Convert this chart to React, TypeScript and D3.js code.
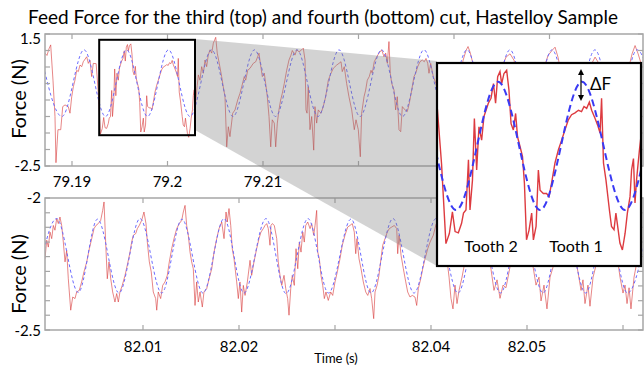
import React from "react";
import * as d3 from "d3";

type Pt = [number, number];

const TITLE = "Feed Force for the third (top) and fourth (bottom) cut, Hastelloy Sample";
const Y_LABEL = "Force (N)";
const X_LABEL = "Time (s)";

// time offsets in ms relative to these bases
const TOP_T0 = 79.19;
const BOTTOM_T0 = 82.0;

const topXTicks = [79.19, 79.2, 79.21, 79.22, 79.23, 79.24];
const topXLabels = ["79.19", "79.2", "79.21", "", "", ""];
const topYTicks = [1.5, 1, 0.5, 0, -0.5, -1, -1.5, -2, -2.5];
const topYLabels = ["1.5", "", "", "", "", "", "", "", "-2.5"];
const bottomXTicks = [82.01, 82.02, 82.03, 82.04, 82.05, 82.06];
const bottomXLabels = ["82.01", "82.02", "", "82.04", "82.05", ""];
const bottomYTicks = [-2, -2.056, -2.111, -2.167, -2.222, -2.278, -2.333, -2.389, -2.444, -2.5];
const bottomYLabels = ["-2", "", "", "", "", "", "", "", "", "-2.5"];

// third cut (top): measured feed force [ms after 79.19 s, N]
const topMeasured: Pt[] = [
  [-2.83, 0.92], [-2.62, 0.85], [-2.41, 1.05], [-2.23, 1.17], [-1.99, 0.1], [-1.78, -1.0], [-1.68, -2.4], [-1.47, -1.4],
  [-1.18, -1.4], [-0.97, -0.7], [-0.73, -0.65], [-0.39, -0.7], [-0.21, -0.9], [-0.03, -0.4], [0.14, -0.1], [0.31, 0.1],
  [0.49, 0.4], [0.66, 0.36], [0.84, 0.56], [1.02, 0.51], [1.18, 0.66], [1.54, 0.81], [1.71, 0.61], [1.88, 0.71],
  [2.06, 0.21], [2.23, 0.61], [2.53, 0.6], [2.75, -0.27], [2.98, -1.53], [3.16, -1.37], [3.32, -1.03], [3.46, -1.34],
  [3.63, -1.36], [3.8, -1.21], [3.9, -1.05], [4.03, -1.0], [4.16, -0.21], [4.24, -1.0], [4.37, -0.53], [4.47, 0.44],
  [4.59, -0.37], [4.71, 0.31], [4.85, 0.1], [4.97, 0.47], [5.08, 0.57], [5.2, 0.68], [5.34, 0.76], [5.47, 0.99],
  [5.58, 0.68], [5.69, 1.1], [5.81, 1.18], [5.9, 0.99], [6.02, 1.15], [6.16, 1.2], [6.28, 0.89], [6.39, 0.36],
  [6.51, 0.26], [6.63, 0.52], [6.73, 0.15], [6.86, 0.0], [6.99, -0.16], [7.09, -0.58], [7.2, -1.47], [7.33, -1.32],
  [7.47, -1.05], [7.56, -1.47], [7.7, -1.26], [7.82, -0.37], [7.91, -0.69], [8.08, -0.74], [8.25, -0.74], [8.38, -0.79],
  [8.51, -0.58], [8.69, -0.26], [8.87, -0.05], [9.04, 0.1], [9.21, 0.26], [9.39, 0.42], [9.56, 0.5], [9.74, 0.53],
  [9.92, 0.57], [10.08, 0.55], [10.21, 0.63], [10.35, 0.6], [10.49, 0.7], [10.61, 0.57], [10.79, 0.44], [10.92, 0.34],
  [11.05, 0.21], [11.13, 0.76], [11.23, -0.26], [11.36, -0.53], [11.54, -1.0], [11.65, -1.26], [11.78, -1.31], [11.88, -1.05],
  [12.01, -1.34], [12.09, -1.52], [12.22, -1.63], [12.36, -1.37], [12.48, -1.05], [12.62, -0.79], [12.7, -0.37], [12.8, -0.19],
  [12.88, -0.89], [12.96, -0.53], [13.11, -0.06], [13.23, 0.26], [13.4, 0.1], [13.58, 0.51], [13.75, 0.31], [13.93, 0.71],
  [14.1, 0.51], [14.27, 0.86], [14.45, 1.02], [14.63, 0.92], [14.8, 1.22], [15.05, 1.4], [15.21, 0.92], [15.42, 0.61],
  [15.67, 0.21], [15.84, -0.1], [16.02, -0.4], [16.2, -1.92], [16.37, -1.31], [16.54, -1.61], [16.83, -0.9], [17.07, -0.8],
  [17.35, -0.5], [17.59, -0.3], [17.77, -0.1], [18.04, 0.21], [18.19, 0.1], [18.4, 0.4], [18.64, 0.46], [18.98, 0.61],
  [19.24, 0.66], [19.44, 0.81], [19.58, 0.92], [19.72, 0.61], [19.93, 0.21], [20.14, 0.31], [20.28, 0.0], [20.45, -0.4],
  [20.63, -1.0], [20.81, -1.92], [20.97, -1.1], [21.18, -1.2], [21.33, -1.92], [21.5, -1.2], [21.67, -0.8], [21.85, -0.5],
  [22.02, -0.3], [22.23, 0.0], [22.48, 0.4], [22.72, 0.71], [22.93, 0.86], [23.07, 1.0], [23.35, 0.86], [23.53, 1.02],
  [23.77, 0.96], [24.05, 1.02], [24.22, 1.07], [24.4, 0.71], [24.5, -0.8], [24.61, -0.9], [24.74, -0.1], [24.92, -1.4],
  [25.1, -1.0], [25.31, -2.02], [25.44, -0.7], [25.62, -1.2], [25.79, -0.8], [26.07, -0.9], [26.31, -0.7], [26.56, -0.4],
  [26.84, 0.1], [27.12, 0.31], [27.36, 0.46], [27.72, 0.56], [27.96, 0.61], [28.17, 0.66], [28.3, 0.36], [28.51, 0.51],
  [28.76, 0.0], [29.0, -0.4], [29.29, -0.8], [29.56, -1.4], [29.74, -1.1], [29.98, -1.4], [30.19, -2.22], [30.33, -0.9],
  [30.58, -0.4], [30.75, -0.2], [30.92, 0.1], [31.13, 0.21], [31.31, 0.4], [31.44, 0.31], [31.65, 0.66], [31.91, 0.81],
  [32.15, 0.92], [32.43, 1.02], [32.67, 0.81], [32.85, 0.92], [33.02, 0.61], [33.19, 1.27], [33.33, 0.31], [33.48, 0.0],
  [33.72, -0.2], [33.89, -0.8], [34.06, -0.4], [34.24, -1.4], [34.42, -1.46], [34.59, -0.7], [34.87, -0.8], [35.11, -0.85],
  [35.32, -0.6], [35.57, -0.2], [35.81, 0.21], [35.99, 0.31], [36.2, 0.51], [36.44, 0.66], [36.68, 0.71], [36.89, 0.66],
  [37.07, 0.76], [37.25, 0.61], [37.38, 0.31], [37.56, 0.61], [37.83, 0.21], [38.11, 0.0], [38.53, -0.6], [38.95, -1.0],
  [39.37, -1.3], [39.79, -1.0], [40.21, -0.5], [40.63, 0.2], [40.95, 0.7], [41.26, 1.0], [41.47, 1.12], [41.68, 0.95],
  [41.99, 0.6], [42.41, -0.2], [42.94, -1.0], [43.46, -1.2], [43.98, -0.8], [44.51, -0.1], [45.03, 0.5], [45.45, 0.8],
  [45.87, 0.9], [46.29, 0.7], [46.71, 0.1], [47.23, -0.9], [47.76, -1.3], [48.28, -0.9], [48.8, -0.2], [49.33, 0.4],
  [49.85, 0.85], [50.26, 1.0], [50.58, 1.1], [50.89, 0.8], [51.31, 0.2], [51.73, -0.6], [52.15, -1.1], [52.67, -1.3],
  [53.2, -0.8], [53.72, -0.1], [54.24, 0.5], [54.77, 0.8], [55.19, 0.6], [55.61, 0.0], [56.13, -0.9], [56.66, -1.3],
  [57.18, -1.0], [57.7, -0.3], [58.23, 0.4], [58.65, 0.9], [58.96, 1.15], [59.28, 0.9], [59.7, 0.5],
];

// third cut (top): model force, turning points [ms after 79.19 s, N]
const topModel: Pt[] = [
  [-3.35, 1.02], [-1.05, -1.0], [1.26, 1.02], [3.51, -1.0], [5.71, 1.02], [7.91, -1.0], [10.1, 1.02], [12.36, -1.0],
  [14.61, 1.02], [16.86, -1.0], [19.11, 1.02], [21.31, -1.0], [23.56, 1.02], [25.76, -1.0], [27.96, 1.02], [30.16, -1.0],
  [32.41, 1.02], [34.61, -1.0], [36.86, 1.02], [39.06, -1.0], [41.36, 1.02], [43.61, -1.0], [45.86, 1.02], [48.06, -1.0],
  [50.26, 1.02], [52.51, -1.0], [54.76, 1.02], [56.96, -1.0], [59.16, 1.02], [61.36, -1.0],
];

// fourth cut (bottom): measured feed force [ms after 82.00 s, N]
const bottomMeasured: Pt[] = [
  [-0.21, -2.23], [-0.03, -2.16], [0.14, -2.186], [0.31, -2.129], [0.49, -2.154], [0.66, -2.104], [0.83, -2.122], [1.01, -2.078],
  [1.18, -2.097], [1.35, -2.072], [1.53, -2.104], [1.7, -2.167], [1.88, -2.242], [2.05, -2.198], [2.22, -2.306], [2.47, -2.425],
  [2.68, -2.375], [2.92, -2.381], [3.09, -2.356], [3.36, -2.35], [3.61, -2.318], [3.85, -2.28], [4.14, -2.242], [4.41, -2.192],
  [4.66, -2.154], [4.9, -2.116], [5.1, -2.104], [5.34, -2.097], [5.59, -2.085], [5.8, -2.047], [5.94, -2.015], [6.11, -2.167],
  [6.28, -2.306], [6.46, -2.242], [6.64, -2.306], [6.84, -2.356], [7.08, -2.394], [7.26, -2.362], [7.43, -2.394], [7.6, -2.356],
  [7.84, -2.331], [8.13, -2.293], [8.36, -2.255], [8.65, -2.205], [8.82, -2.167], [8.99, -2.141], [9.24, -2.135], [9.41, -2.116],
  [9.61, -2.104], [9.86, -2.085], [10.1, -2.053], [10.31, -2.097], [10.45, -2.167], [10.66, -2.242], [10.86, -2.28], [11.07, -2.356],
  [11.32, -2.381], [11.43, -2.425], [11.59, -2.356], [11.84, -2.381], [12.05, -2.331], [12.29, -2.318], [12.53, -2.293], [12.74, -2.242],
  [12.99, -2.192], [13.23, -2.154], [13.51, -2.116], [13.78, -2.097], [14.03, -2.085], [14.2, -2.053], [14.38, -2.028], [14.55, -2.104],
  [14.72, -2.141], [14.9, -2.205], [15.07, -2.242], [15.24, -2.268], [15.42, -2.407], [15.59, -2.318], [15.76, -2.394], [15.94, -2.356],
  [16.18, -2.413], [16.35, -2.356], [16.64, -2.343], [16.88, -2.306], [17.16, -2.268], [17.4, -2.205], [17.68, -2.154], [17.92, -2.116],
  [18.2, -2.091], [18.44, -2.154], [18.65, -2.053], [18.78, -2.091], [18.96, -2.04], [19.14, -2.104], [19.3, -2.192], [19.48, -2.23],
  [19.76, -2.318], [19.93, -2.381], [20.1, -2.318], [20.28, -2.432], [20.45, -2.331], [20.63, -2.369], [20.87, -2.318], [21.15, -2.236],
  [21.32, -2.293], [21.56, -2.242], [21.84, -2.192], [22.08, -2.154], [22.29, -2.129], [22.53, -2.116], [22.71, -2.104], [22.89, -2.097],
  [23.05, -2.116], [23.23, -2.179], [23.33, -2.104], [23.47, -2.097], [23.68, -2.104], [23.93, -2.154], [24.09, -2.242], [24.27, -2.293],
  [24.45, -2.331], [24.69, -2.293], [24.87, -2.343], [25.07, -2.381], [25.21, -2.444], [25.39, -2.343], [25.55, -2.293], [25.76, -2.331],
  [25.94, -2.192], [26.12, -2.268], [26.28, -2.167], [26.46, -2.205], [26.64, -2.129], [26.8, -2.167], [26.95, -2.104], [27.16, -2.091],
  [27.4, -2.116], [27.57, -2.097], [27.78, -2.141], [27.92, -2.104], [28.09, -2.047], [28.2, -2.205], [28.37, -2.23], [28.54, -2.293],
  [28.72, -2.331], [28.89, -2.381], [29.06, -2.356], [29.3, -2.388], [29.55, -2.356], [29.76, -2.369], [30.0, -2.318], [30.24, -2.28],
  [30.52, -2.23], [30.76, -2.179], [31.04, -2.141], [31.32, -2.11], [31.56, -2.104], [31.8, -2.097], [32.01, -2.129], [32.16, -2.211],
  [32.29, -2.154], [32.5, -2.23], [32.71, -2.268], [32.95, -2.318], [33.2, -2.356], [33.41, -2.369], [33.65, -2.343], [33.82, -2.381],
  [34.03, -2.457], [34.17, -2.356], [34.38, -2.331], [34.58, -2.293], [34.79, -2.23], [34.97, -2.179], [35.21, -2.154], [35.45, -2.129],
  [35.66, -2.116], [35.91, -2.11], [36.18, -2.104], [36.43, -2.116], [36.53, -2.211], [36.67, -2.141], [36.88, -2.217], [37.12, -2.268],
  [37.37, -2.318], [37.57, -2.356], [37.81, -2.375], [38.05, -2.369], [38.33, -2.375], [38.51, -2.407], [38.68, -2.343], [38.93, -2.306],
  [39.14, -2.268], [39.38, -2.23], [39.66, -2.192], [39.9, -2.167], [40.24, -2.141], [40.52, -2.1], [40.83, -2.08], [41.15, -2.12],
  [41.56, -2.2], [41.88, -2.3], [42.08, -2.38], [42.29, -2.42], [42.5, -2.33], [42.71, -2.4], [42.92, -2.35], [43.23, -2.3],
  [43.65, -2.22], [44.06, -2.15], [44.58, -2.1], [45.0, -2.08], [45.42, -2.12], [45.83, -2.18], [46.25, -2.27], [46.56, -2.35],
  [46.88, -2.31], [47.19, -2.38], [47.5, -2.33], [47.81, -2.34], [48.13, -2.28], [48.54, -2.2], [48.96, -2.14], [49.38, -2.09],
  [49.79, -2.11], [50.21, -2.18], [50.63, -2.26], [50.94, -2.33], [51.25, -2.3], [51.46, -2.39], [51.77, -2.33], [52.08, -2.42],
  [52.4, -2.3], [52.81, -2.25], [53.23, -2.17], [53.65, -2.11], [54.06, -2.09], [54.48, -2.13], [54.9, -2.2], [55.31, -2.28],
  [55.63, -2.35], [55.83, -2.31], [56.04, -2.4], [56.35, -2.33], [56.56, -2.41], [56.88, -2.3], [57.29, -2.24], [57.71, -2.16],
  [58.13, -2.1], [58.54, -2.09], [58.96, -2.14], [59.38, -2.22], [59.69, -2.3], [60.0, -2.36], [60.21, -2.33], [60.42, -2.4],
  [60.63, -2.34], [60.83, -2.42], [61.15, -2.3], [61.56, -2.22], [61.98, -2.15],
];

// fourth cut (bottom): model force, turning points [ms after 82.00 s, N]
const bottomModel: Pt[] = [
  [-1.2, -2.36], [1.01, -2.078], [3.26, -2.358], [5.26, -2.08], [7.5, -2.36], [9.69, -2.078], [11.95, -2.36], [14.06, -2.08],
  [16.25, -2.36], [18.44, -2.078], [20.52, -2.36], [22.81, -2.078], [24.9, -2.362], [27.19, -2.078], [29.32, -2.36], [31.67, -2.08],
  [33.75, -2.36], [36.04, -2.078], [38.23, -2.36], [40.52, -2.078], [42.81, -2.36], [45.0, -2.08], [47.24, -2.36], [49.43, -2.078],
  [51.67, -2.36], [53.86, -2.08], [56.1, -2.36], [58.28, -2.078], [60.47, -2.36], [62.71, -2.078],
];

const FONT = "Lato, 'Open Sans', 'DejaVu Sans', sans-serif";
const AXIS = "#a6a6a6";

export default function App() {
  const W = 644;
  const H = 368;
  const L = 45;
  const R = 643;
  const TOP = { y0: 34, y1: 166 };
  const BOT = { y0: 198, y1: 330 };
  const INSET = { x0: 437, x1: 641, y0: 63, y1: 266 };
  const BOX = { x0: 99.2, x1: 195, y0: 39.8, y1: 135.2 };

  const xTop = d3.scaleLinear().domain([79.187173, 79.249791]).range([L, R]);
  const yTop = d3.scaleLinear().domain([-2.5, 1.5]).range([TOP.y1, TOP.y0]);
  const xBot = d3.scaleLinear().domain([81.999792, 82.062083]).range([L, R]);
  const yBot = d3.scaleLinear().domain([-2.5, -2]).range([BOT.y1, BOT.y0]);
  const xIn = d3.scaleLinear().domain([79.192513, 79.203194]).range([INSET.x0, INSET.x1]);
  const yIn = d3.scaleLinear().domain([-1.882, 1.3145]).range([INSET.y1, INSET.y0]);

  const mkLine = (xs: d3.ScaleLinear<number, number>, ys: d3.ScaleLinear<number, number>, t0: number, curve: d3.CurveFactory) =>
    d3
      .line<Pt>()
      .x((d) => xs(t0 + d[0] / 1000))
      .y((d) => ys(d[1]))
      .curve(curve);

  const topRed = mkLine(xTop, yTop, TOP_T0, d3.curveLinear)(topMeasured) || "";
  const topBlue = mkLine(xTop, yTop, TOP_T0, d3.curveMonotoneX)(topModel) || "";
  const botRed = mkLine(xBot, yBot, BOTTOM_T0, d3.curveLinear)(bottomMeasured) || "";
  const botBlue = mkLine(xBot, yBot, BOTTOM_T0, d3.curveMonotoneX)(bottomModel) || "";
  const inRed = mkLine(xIn, yIn, TOP_T0, d3.curveLinear)(topMeasured) || "";
  const inBlue = mkLine(xIn, yIn, TOP_T0, d3.curveMonotoneX)(topModel) || "";

  const frame = (
    xs: d3.ScaleLinear<number, number>,
    ys: d3.ScaleLinear<number, number>,
    xt: number[],
    yt: number[],
    y0: number,
    y1: number,
    key: string
  ) => (
    <g key={key} stroke={AXIS} fill="none">
      <rect x={L} y={y0} width={R - L} height={y1 - y0} strokeWidth={1.5} />
      {yt.map((v, i) => (
        <g key={"y" + i} strokeWidth={1.2}>
          <line x1={L} x2={L + 5} y1={ys(v)} y2={ys(v)} />
          <line x1={R - 5} x2={R} y1={ys(v)} y2={ys(v)} />
        </g>
      ))}
      {xt.map((v, i) => (
        <g key={"x" + i} strokeWidth={1.2}>
          <line x1={xs(v)} x2={xs(v)} y1={y1} y2={y1 - 5} />
          <line x1={xs(v)} x2={xs(v)} y1={y0} y2={y0 + 5} />
        </g>
      ))}
    </g>
  );

  const ax = 581;
  const ay0 = 69;
  const ay1 = 101;

  return (
    <svg
      width={W}
      height={H}
      viewBox={`0 0 ${W} ${H}`}
      style={{ position: "fixed", left: 0, top: 0, background: "#fff" }}
      fontFamily={FONT}
    >
      <defs>
        <clipPath id="clipTop">
          <rect x={L} y={TOP.y0} width={R - L} height={TOP.y1 - TOP.y0} />
        </clipPath>
        <clipPath id="clipBot">
          <rect x={L} y={BOT.y0} width={R - L} height={BOT.y1 - BOT.y0} />
        </clipPath>
        <clipPath id="clipIn">
          <rect x={INSET.x0} y={INSET.y0} width={INSET.x1 - INSET.x0} height={INSET.y1 - INSET.y0} />
        </clipPath>
      </defs>
      <rect x={0} y={0} width={W} height={H} fill="#fff" />

      {/* top plot */}
      <g clipPath="url(#clipTop)" fill="none">
        <path d={topRed} stroke="#d94040" strokeWidth={0.9} strokeOpacity={0.7} />
        <path d={topBlue} stroke="#6a6aff" strokeWidth={1} strokeDasharray="3,2.5" />
      </g>
      {frame(xTop, yTop, topXTicks, topYTicks, TOP.y0, TOP.y1, "ft")}

      {/* bottom plot */}
      <g clipPath="url(#clipBot)" fill="none">
        <path d={botRed} stroke="#d94040" strokeWidth={0.9} strokeOpacity={0.7} />
        <path d={botBlue} stroke="#6a6aff" strokeWidth={1} strokeDasharray="3,2.5" />
      </g>
      {frame(xBot, yBot, bottomXTicks, bottomYTicks, BOT.y0, BOT.y1, "fb")}

      {/* zoom wedge */}
      <polygon
        points={`${BOX.x1},${BOX.y0 - 0.8} ${INSET.x0},61 ${INSET.x0},${INSET.y1} ${BOX.x1},130`}
        fill="#7f7f7f"
        fillOpacity={0.34}
      />
      <rect x={BOX.x0} y={BOX.y0} width={BOX.x1 - BOX.x0} height={BOX.y1 - BOX.y0} fill="none" stroke="#000" strokeWidth={2} />

      {/* inset */}
      <rect x={INSET.x0} y={INSET.y0} width={INSET.x1 - INSET.x0} height={INSET.y1 - INSET.y0} fill="#fff" />
      <g clipPath="url(#clipIn)" fill="none">
        <path d={inRed} stroke="#d9262b" strokeWidth={1.4} strokeOpacity={0.9} />
        <path d={inBlue} stroke="#3a3af4" strokeWidth={2} strokeDasharray="7,4" />
      </g>
      <rect x={INSET.x0} y={INSET.y0} width={INSET.x1 - INSET.x0} height={INSET.y1 - INSET.y0} fill="none" stroke="#000" strokeWidth={2.2} />
      <text x={491} y={252} fontSize={16} textAnchor="middle" fill="#000">Tooth 2</text>
      <text x={576} y={252} fontSize={16} textAnchor="middle" fill="#000">Tooth 1</text>
      <line x1={ax} x2={ax} y1={ay0 + 4} y2={ay1 - 4} stroke="#000" strokeWidth={1.2} />
      <path d={`M${ax},${ay0} L${ax - 3},${ay0 + 6} L${ax + 3},${ay0 + 6} Z`} fill="#000" />
      <path d={`M${ax},${ay1} L${ax - 3},${ay1 - 6} L${ax + 3},${ay1 - 6} Z`} fill="#000" />
      <text x={590} y={90} fontSize={17} fill="#000">ΔF</text>

      {/* axis tick labels */}
      <g fontSize={15} fill="#000">
        {topYTicks.map((v, i) =>
          topYLabels[i] ? (
            <text key={"ty" + i} x={41} y={yTop(v) + (i === 0 ? 10 : 5)} textAnchor="end">
              {topYLabels[i]}
            </text>
          ) : null
        )}
        {topXTicks.map((v, i) =>
          topXLabels[i] ? (
            <text key={"tx" + i} x={xTop(v)} y={187} textAnchor="middle">
              {topXLabels[i]}
            </text>
          ) : null
        )}
        {bottomYTicks.map((v, i) =>
          bottomYLabels[i] ? (
            <text key={"by" + i} x={41} y={yBot(v) + (i === 0 ? 5 : 6)} textAnchor="end">
              {bottomYLabels[i]}
            </text>
          ) : null
        )}
        {bottomXTicks.map((v, i) =>
          bottomXLabels[i] ? (
            <text key={"bx" + i} x={xBot(v)} y={352} textAnchor="middle">
              {bottomXLabels[i]}
            </text>
          ) : null
        )}
      </g>

      {/* axis titles */}
      <text transform="translate(26,99) rotate(-90)" fontSize={20} textAnchor="middle" fill="#000">
        {Y_LABEL}
      </text>
      <text transform="translate(26,274) rotate(-90)" fontSize={20} textAnchor="middle" fill="#000">
        {Y_LABEL}
      </text>
      <text x={336} y={363} fontSize={13} textAnchor="middle" fill="#000">
        {X_LABEL}
      </text>
      <text x={323} y={24} fontSize={19} textAnchor="middle" textLength={590} lengthAdjust="spacingAndGlyphs" fill="#000">
        {TITLE}
      </text>
    </svg>
  );
}
